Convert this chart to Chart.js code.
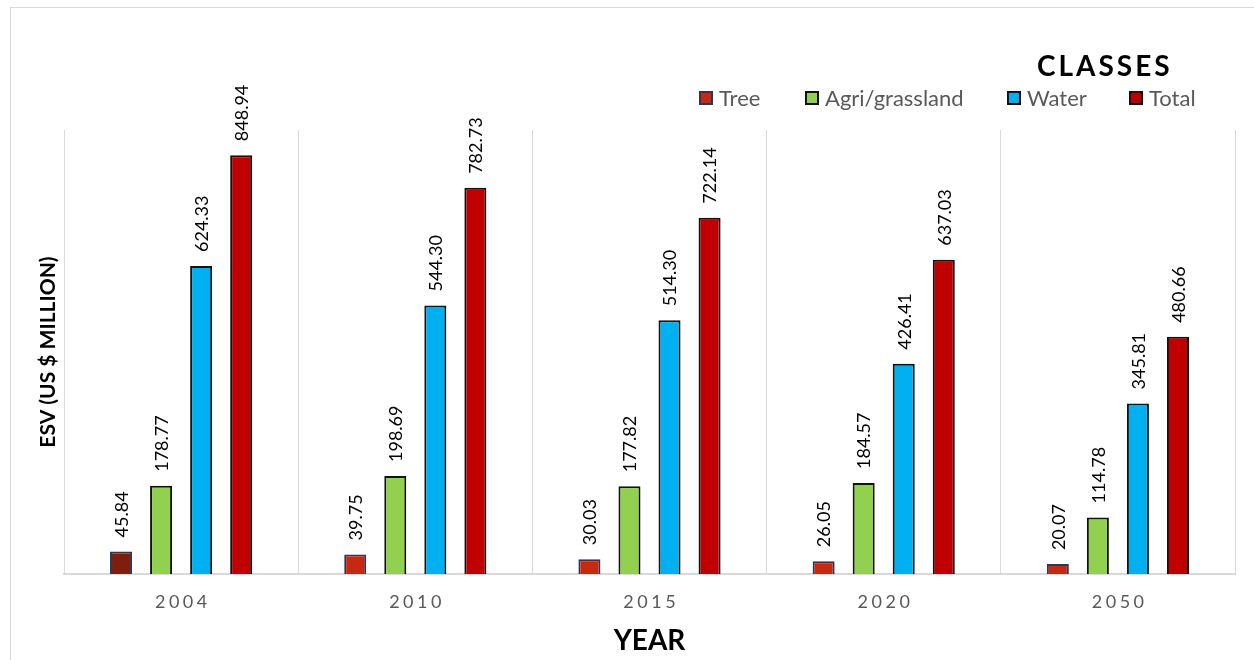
<!DOCTYPE html>
<html>
<head>
<meta charset="utf-8">
<script src="https://cdn.jsdelivr.net/npm/chart.js@4.4.1/dist/chart.umd.min.js"></script>
<style>
  body { margin: 0; background: #fff; overflow: hidden; font-family: Lato, sans-serif; }
  #wrap { position: relative; width: 1254px; height: 660px; overflow: hidden; }
  #frame { position: absolute; left: 10px; top: 7px; width: 1400px; height: 800px; border: 1px solid #d9d9d9; }
  #chartBox { position: absolute; left: 0; top: 0; width: 1254px; height: 660px; }
  #legendTitle { position: absolute; left: 1037px; top: 51px; font: bold 28px/28px Lato, sans-serif; letter-spacing: 3px; color: #000; }
  #legend { position: absolute; left: 699px; top: 88px; display: flex; height: 20px; align-items: center; }
  #legend .item { display: flex; align-items: center; font: 22px/20px Lato, sans-serif; color: #595959; }
  #legend .item:nth-child(1) { width: 106px; }
  #legend .item:nth-child(2) { width: 202px; }
  #legend .item:nth-child(3) { width: 122px; }
  #legend .box { width: 10px; height: 10px; border: 2px solid #000; margin-right: 6px; }
</style>
</head>
<body>
<div id="wrap">
  <div id="frame"></div>
  <div id="chartBox"><canvas id="esvChart"></canvas></div>
  <div id="legendTitle">CLASSES</div>
  <div id="legend"></div>
</div>
<script>
// ESV by land class (US $ million)
const years = ["2004", "2010", "2015", "2020", "2050"];
const tree = [45.84, 39.75, 30.03, 26.05, 20.07];
const agri = [178.77, 198.69, 177.82, 184.57, 114.78];
const water = [624.33, 544.30, 514.30, 426.41, 345.81];
const total = [848.94, 782.73, 722.14, 637.03, 480.66];

// value labels above each bar, plus spaced-out year labels under the axis
const barLabels = {
  id: "barLabels",
  afterDatasetsDraw(chart) {
    const ctx = chart.ctx;
    ctx.save();
    ctx.font = "18px Lato, sans-serif";
    ctx.fillStyle = "#000";
    ctx.textAlign = "left";
    ctx.textBaseline = "middle";
    chart.data.datasets.forEach((ds, i) => {
      chart.getDatasetMeta(i).data.forEach((bar, j) => {
        ctx.save();
        ctx.translate(bar.x + 1, bar.y - 14);
        ctx.rotate(-Math.PI / 2);
        ctx.fillText(ds.data[j].toFixed(2), 0, 0);
        ctx.restore();
      });
    });
    ctx.restore();
  },
  afterDraw(chart) {
    const ctx = chart.ctx;
    const xs = chart.scales.x;
    ctx.save();
    ctx.font = "18px Lato, sans-serif";
    ctx.fillStyle = "#595959";
    ctx.textAlign = "center";
    ctx.textBaseline = "middle";
    ctx.letterSpacing = "3.5px";
    years.forEach((y, i) => {
      ctx.fillText(y, xs.getPixelForTick(i) + 1.75, 602);
    });
    ctx.restore();
  }
};

const ctx = document.getElementById("esvChart").getContext("2d");
const esvChart = new Chart(ctx, {
  type: "bar",
  data: {
    labels: years,
    datasets: [
      {
        label: "Tree",
        data: tree,
        backgroundColor: ["#7f1e0d", "#c6290f", "#c6290f", "#c6290f", "#c6290f"],
        borderColor: "#2e3658",
        borderWidth: 2
      },
      {
        label: "Agri/grassland",
        data: agri,
        backgroundColor: "#92d050",
        borderColor: "#111",
        borderWidth: 2
      },
      {
        label: "Water",
        data: water,
        backgroundColor: "#00b0f0",
        borderColor: "#111",
        borderWidth: 2
      },
      {
        label: "Total",
        data: total,
        backgroundColor: "#c00000",
        borderColor: "#111",
        borderWidth: 2
      }
    ]
  },
  options: {
    responsive: true,
    maintainAspectRatio: false,
    animation: false,
    categoryPercentage: 0.684,
    barPercentage: 0.55,
    layout: { padding: { left: 10, right: 19, top: 130, bottom: 0 } },
    plugins: {
      legend: { display: false },
      tooltip: { enabled: false }
    },
    scales: {
      x: {
        grid: { display: true, offset: true, color: "#d9d9d9", drawTicks: false },
        border: { display: true, color: "#d9d9d9", width: 2 },
        ticks: { display: false },
        title: {
          display: true,
          text: "YEAR",
          color: "#000",
          font: { family: "Lato", size: 28, weight: "bold" },
          padding: { top: 50.2, bottom: 2.2 }
        }
      },
      y: {
        min: 0,
        max: 900,
        grid: { display: false, drawTicks: false },
        border: { display: true, color: "#d9d9d9", width: 1 },
        ticks: { display: false },
        title: {
          display: true,
          text: "ESV (US $ MILLION)",
          color: "#000",
          font: { family: "Lato", size: 21, weight: "bold" },
          padding: { top: 25.4, bottom: 3.4 }
        }
      }
    }
  },
  plugins: [barLabels]
});

// legend built from the datasets
const legendEl = document.getElementById("legend");
esvChart.data.datasets.forEach(ds => {
  const fill = Array.isArray(ds.backgroundColor)
    ? ds.backgroundColor[ds.backgroundColor.length - 1]
    : ds.backgroundColor;
  const item = document.createElement("div");
  item.className = "item";
  const box = document.createElement("span");
  box.className = "box";
  box.style.background = fill;
  box.style.borderColor = ds.borderColor;
  item.appendChild(box);
  item.appendChild(document.createTextNode(ds.label));
  legendEl.appendChild(item);
});
</script>
</body>
</html>
